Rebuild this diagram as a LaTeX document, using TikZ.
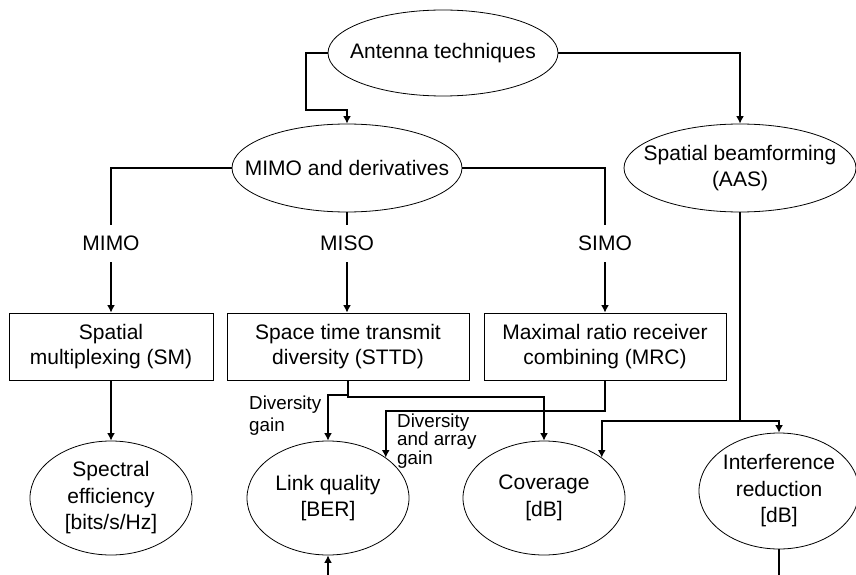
\documentclass[tikz,border=0pt]{standalone}
\usepackage{fontspec}
\setmainfont{Liberation Sans}
\usetikzlibrary{arrows.meta,positioning,shapes.geometric}

\begin{document}
\begin{tikzpicture}[
			x=1pt, y=-1pt,
			etext/.style={
				align=center,
				inner sep=0pt,
				font=\fontsize{21}{26.5}\selectfont
			},
			techellipse/.style={
				draw,
				ellipse,
				line width=0.8pt,
				inner sep=0pt,
				label={[etext]center:{#1}}
			},
			techbox/.style={
				draw,
				rectangle,
				line width=0.8pt,
				minimum height=67pt,
				inner sep=0pt,
				align=center,
				font=\fontsize{21}{25.5}\selectfont
			},
			flowarrow/.style={
				->,
				>={Latex[length=7.5pt,width=8pt]},
				line width=1.9pt
			},
			flowline/.style={
				line width=1.9pt
			},
			branchlabel/.style={
				fill=white,
				inner xsep=3pt,
				inner ysep=11pt,
				font=\fontsize{21}{25}\selectfont
			},
			gainlabel/.style={
				align=left,
				inner sep=0pt,
				anchor=west
			}
		]
			\useasboundingbox (0,0) rectangle (856,575);
			
			% top level
			\node[techellipse={Antenna techniques},minimum width=230pt,minimum height=86pt] (antenna) at (443,53) {};
			\node[techellipse={MIMO and derivatives},minimum width=230pt,minimum height=88pt] (mimo) at (347,168) {};
			\node[techellipse={Spatial beamforming\\(AAS)},minimum width=232pt,minimum height=88pt] (beam) at (740,168) {};
			
			% techniques
			\node[techbox,minimum width=204pt] (smbox) at (111,346.5) {Spatial\\multiplexing (SM)};
			\node[techbox,minimum width=242pt] (sttd) at (348,346.5) {Space time transmit\\diversity (STTD)};
			\node[techbox,minimum width=242pt] (mrc) at (605,346.5) {Maximal ratio receiver\\combining (MRC)};
			
			% results
			\node[techellipse={Spectral\\efficiency\\{[bits/s/Hz]}},minimum width=162pt,minimum height=114pt] (spectral) at (111,498) {};
			\node[techellipse={Link quality\\{[BER]}},minimum width=162pt,minimum height=114pt] (link) at (328,498) {};
			\node[techellipse={Coverage\\{[dB]}},minimum width=162pt,minimum height=114pt] (coverage) at (544,498) {};
			\node[techellipse={Interference\\reduction\\{[dB]}},minimum width=160pt,minimum height=116pt] (interf) at (779,491) {};
			
			\node[gainlabel,font=\fontsize{18.8}{22}\selectfont] (divgain) at (249,416) {Diversity\\gain};
			\node[gainlabel,font=\fontsize{18.8}{16.5}\selectfont] (arraygain) at (397,441) {Diversity\\and array\\gain};
			
			\coordinate (antennabend) at (306,110);
			\coordinate (sttdsplit) at (348,395);
			\coordinate (sttdjoin) at (348,397);
			\coordinate (mrcbend) at (605,411);
			\coordinate (beamjoin) at (740,421);
			\coordinate (linkfeed) at (328,575);
			\coordinate (interfexit) at (779,575);
			
			\draw[flowarrow] (antenna.west) -| (antennabend) -| (mimo.north);
			\draw[flowarrow] (antenna.east) -| (beam.north);
			
			\draw[flowarrow] (mimo.west) -| node[branchlabel,pos=0.76] (mimolabel) {MIMO} (smbox.north);
			\draw[flowarrow] (mimo.south) -- node[branchlabel,pos=0.31] (misolabel) {MISO} (mimo.south |- sttd.north);
			\draw[flowarrow] (mimo.east) -| node[branchlabel,pos=0.76] (simolabel) {SIMO} (mrc.north);
			
			\draw[flowarrow] (smbox.south) -- (spectral.north);
			\draw[flowarrow] (sttd.south) -- (sttdjoin) -| (coverage.north);
			\draw[flowarrow] (sttdsplit) -| (link.north);
			\draw[flowarrow] (mrc.south) -- (mrcbend) -| (link.35);
			
			\draw[flowarrow] (beam.south) -- (beamjoin) -| (interf.north);
			\draw[flowarrow] (beamjoin) -| (coverage.35);
			
			\draw[flowarrow] (linkfeed) -- (link.south);
			\draw[flowline] (interf.south) -- (interfexit);
			
		\end{tikzpicture}
\end{document}
